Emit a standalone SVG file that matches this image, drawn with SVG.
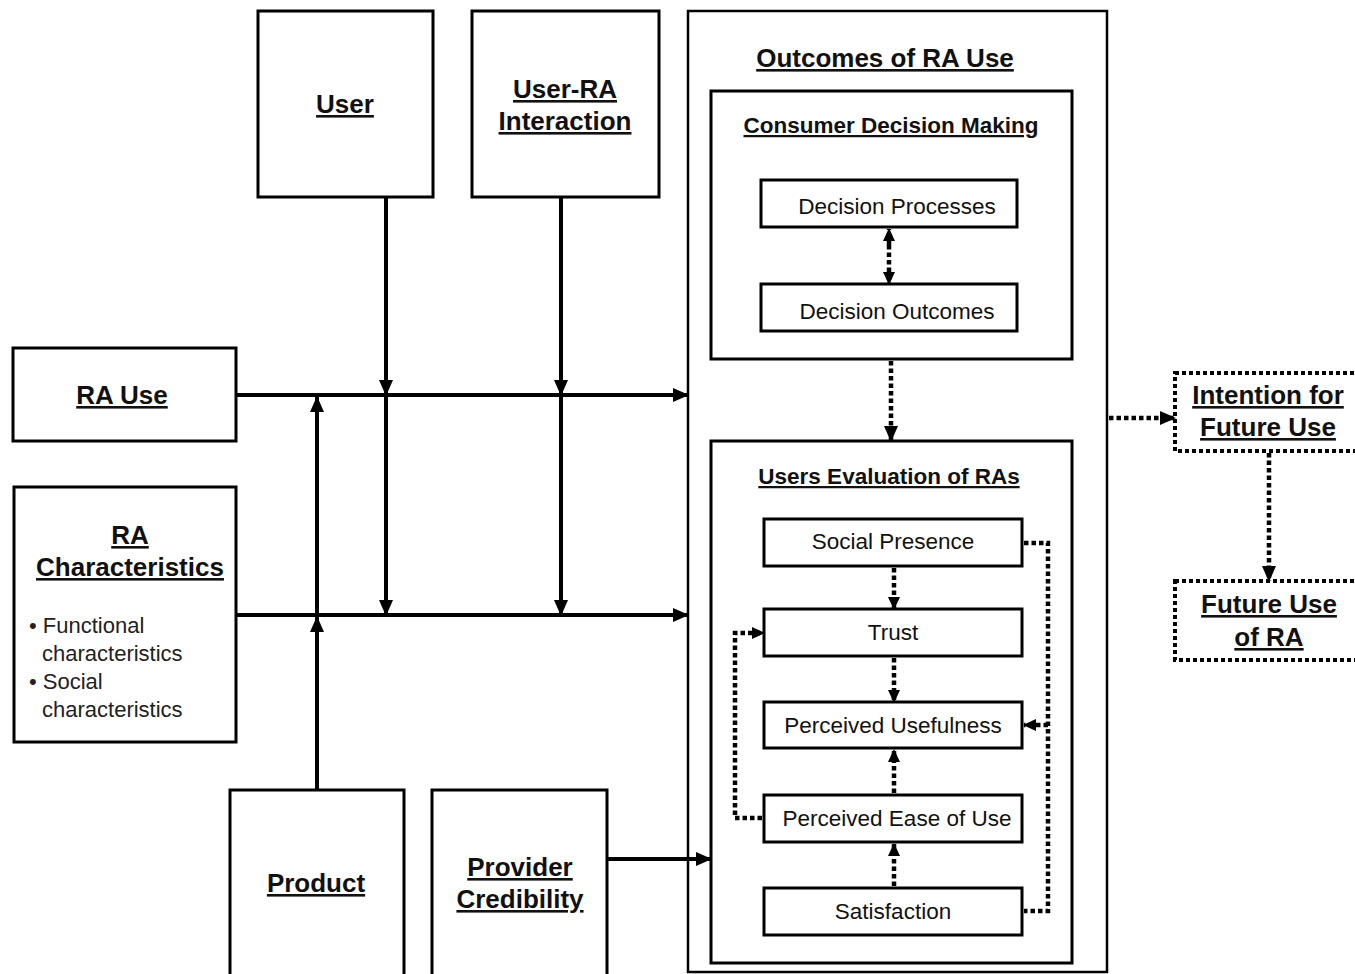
<svg xmlns="http://www.w3.org/2000/svg" width="1355" height="974" viewBox="0 0 1355 974">
<style>
.box{fill:#fff;stroke:#000;stroke-width:3}
.obox{fill:#fff;stroke:#000;stroke-width:2.5}
.dbox{fill:#fff;stroke:#000;stroke-width:4;stroke-dasharray:4 3}
.h{font-family:"Liberation Sans",Arial,sans-serif;font-weight:bold;font-size:26px;text-anchor:middle;text-decoration:underline;fill:#111}
.h2{font-family:"Liberation Sans",Arial,sans-serif;font-weight:bold;font-size:22.5px;text-anchor:middle;text-decoration:underline;fill:#111}
.t{font-family:"Liberation Sans",Arial,sans-serif;font-size:22.5px;text-anchor:middle;fill:#111}
.b{font-family:"Liberation Sans",Arial,sans-serif;font-size:22px;fill:#222}
.s{fill:none;stroke:#000;stroke-width:4}
.d{fill:none;stroke:#000;stroke-width:4.5;stroke-dasharray:4.5 3}
</style>
<defs>
<marker id="ah" markerUnits="userSpaceOnUse" markerWidth="16" markerHeight="14" refX="15" refY="7" orient="auto">
<path d="M0,0 L16,7 L0,14 Z" fill="#000"/>
</marker>
<marker id="ahs" markerUnits="userSpaceOnUse" markerWidth="13" markerHeight="12" refX="12" refY="6" orient="auto">
<path d="M0,0 L13,6 L0,12 Z" fill="#000"/>
</marker>
</defs>

<g id="outcomes">
<rect class="obox" x="688" y="11" width="419" height="961"/>
<text class="h" x="885" y="67">Outcomes of RA Use</text>
</g>
<g id="consumer-decision-making">
<rect class="box" x="711" y="91" width="361" height="268"/>
<text class="h2" x="891" y="133">Consumer Decision Making</text>
</g>
<g id="decision-processes">
<rect class="box" x="761" y="180" width="256" height="47"/>
<text class="t" x="897" y="214">Decision Processes</text>
</g>
<g id="decision-outcomes">
<rect class="box" x="761" y="284" width="256" height="47"/>
<text class="t" x="897" y="319">Decision Outcomes</text>
</g>
<g id="users-evaluation">
<rect class="box" x="711" y="441" width="361" height="522"/>
<text class="h2" x="889" y="484">Users Evaluation of RAs</text>
</g>
<g id="social-presence">
<rect class="box" x="764" y="519" width="258" height="47"/>
<text class="t" x="893" y="549">Social Presence</text>
</g>
<g id="trust">
<rect class="box" x="764" y="609" width="258" height="47"/>
<text class="t" x="893" y="640">Trust</text>
</g>
<g id="perceived-usefulness">
<rect class="box" x="764" y="702" width="258" height="46"/>
<text class="t" x="893" y="733">Perceived Usefulness</text>
</g>
<g id="perceived-ease-of-use">
<rect class="box" x="764" y="795" width="258" height="47"/>
<text class="t" x="897" y="826">Perceived Ease of Use</text>
</g>
<g id="satisfaction">
<rect class="box" x="764" y="888" width="258" height="47"/>
<text class="t" x="893" y="919">Satisfaction</text>
</g>

<g id="user">
<rect class="box" x="258" y="11" width="175" height="186"/>
<text class="h" x="345" y="113">User</text>
</g>
<g id="user-ra-interaction">
<rect class="box" x="472" y="11" width="187" height="186"/>
<text class="h" x="565" y="98">User-RA</text>
<text class="h" x="565" y="130">Interaction</text>
</g>
<g id="ra-use">
<rect class="box" x="13" y="348" width="223" height="93"/>
<text class="h" x="122" y="404">RA Use</text>
</g>
<g id="ra-characteristics">
<rect class="box" x="14" y="487" width="222" height="255"/>
<text class="h" x="130" y="544">RA</text>
<text class="h" x="130" y="576">Characteristics</text>
<text class="b" x="29" y="633">• Functional</text>
<text class="b" x="42" y="661">characteristics</text>
<text class="b" x="29" y="689">• Social</text>
<text class="b" x="42" y="717">characteristics</text>
</g>
<g id="product">
<rect class="box" x="230" y="790" width="174" height="190"/>
<text class="h" x="316" y="892">Product</text>
</g>
<g id="provider-credibility">
<rect class="box" x="432" y="790" width="175" height="190"/>
<text class="h" x="520" y="876">Provider</text>
<text class="h" x="520" y="908">Credibility</text>
</g>
<g id="intention-future-use">
<rect class="dbox" x="1175" y="373" width="185" height="78"/>
<text class="h" x="1268" y="404">Intention for</text>
<text class="h" x="1268" y="436">Future Use</text>
</g>
<g id="future-use-ra">
<rect class="dbox" x="1175" y="581" width="185" height="79"/>
<text class="h" x="1269" y="613">Future Use</text>
<text class="h" x="1269" y="646">of RA</text>
</g>

<g id="connectors">
<path class="s" d="M236,395 H688" marker-end="url(#ah)"/>
<path class="s" d="M236,615 H688" marker-end="url(#ah)"/>
<path class="s" d="M386,197 V395" marker-end="url(#ah)"/>
<path class="s" d="M386,395 V615" marker-end="url(#ah)"/>
<path class="s" d="M561,197 V395" marker-end="url(#ah)"/>
<path class="s" d="M561,395 V615" marker-end="url(#ah)"/>
<path class="s" d="M317,790 V617" marker-end="url(#ah)"/>
<path class="s" d="M317,615 V397" marker-end="url(#ah)"/>
<path class="s" d="M607,859 H711" marker-end="url(#ah)"/>
<path class="d" d="M889,245 V229" marker-end="url(#ahs)"/>
<path class="d" d="M889,245 V284" marker-end="url(#ahs)"/>
<path class="d" d="M891,361 V441" marker-end="url(#ah)"/>
<path class="d" d="M1109,418 H1175" marker-end="url(#ah)"/>
<path class="d" d="M1269,453 V581" marker-end="url(#ah)"/>
<path class="d" d="M894,568 V609" marker-end="url(#ahs)"/>
<path class="d" d="M894,658 V702" marker-end="url(#ahs)"/>
<path class="d" d="M894,793 V750" marker-end="url(#ahs)"/>
<path class="d" d="M894,886 V844" marker-end="url(#ahs)"/>
<path class="d" d="M1024,543 H1048 V911 H1024"/>
<path class="d" d="M1048,725 H1024" marker-end="url(#ahs)"/>
<path class="d" d="M762,818 H735 V633 H764" marker-end="url(#ahs)"/>
</g>
</svg>
